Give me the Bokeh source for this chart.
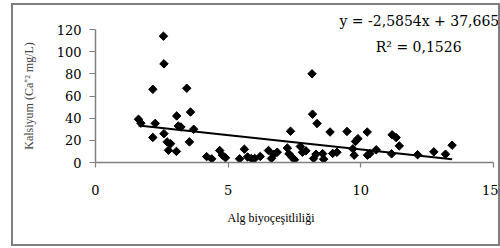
import numpy as np
from bokeh.plotting import figure
from bokeh.models import FixedTicker, Label, Range1d, Title
from bokeh.embed import file_html
from bokeh.resources import INLINE

# Data (algal biodiversity vs calcium)
alg = [1.62, 1.71, 2.16, 2.25, 2.56, 2.58, 3.44, 3.58, 3.06, 3.12, 3.22, 3.70,
       2.16, 2.58, 2.70, 2.83, 2.75, 3.05, 3.54, 4.19, 4.38, 4.68, 4.78, 4.90,
       5.43, 5.61, 5.73, 5.87, 6.00, 6.21, 6.52, 6.63, 6.72, 6.85, 7.23, 7.29,
       7.35, 7.42, 7.50, 7.72, 7.80, 7.93, 8.16, 8.18, 8.35, 8.22, 8.31, 8.56,
       8.60, 8.84, 8.94, 9.10, 9.48, 9.70, 9.75, 9.80, 9.89, 10.24, 10.25, 10.34,
       10.58, 11.18, 11.33, 11.45, 11.16, 12.14, 12.75, 13.19, 13.44]
ca = [39.0, 35.5, 66.0, 35.3, 114.0, 89.0, 67.0, 45.5, 42.0, 33.0, 32.0, 30.0,
      22.6, 26.0, 18.6, 17.0, 11.0, 10.0, 18.6, 5.3, 3.3, 10.8, 6.6, 4.3,
      3.3, 12.0, 5.0, 3.6, 3.6, 5.5, 10.8, 3.6, 7.2, 9.3, 13.0, 7.8,
      28.2, 4.5, 2.5, 14.5, 9.2, 10.5, 80.0, 43.6, 35.2, 3.6, 7.5, 8.0,
      3.0, 27.5, 8.2, 9.2, 28.0, 12.3, 6.6, 19.0, 21.5, 27.5, 6.6, 8.1,
      11.5, 25.0, 22.5, 15.0, 7.8, 7.0, 9.6, 7.5, 15.6]

x_ticks = [0, 5, 10, 15]
y_ticks = [0, 20, 40, 60, 80, 100, 120]
slope = -2.5854
intercept = 37.665
eq_text = "y = -2,5854x + 37,665"
r2_text = "R² = 0,1526"
x_title = "Alg biyoçeşitliliği"
y_title = "Kalsiyum (Ca⁺² mg/L)"

SERIF = "DejaVu Serif"
TITLE_FONT = "Liberation Serif"
GREY = "#808080"

p = figure(width=489, height=243,
           x_range=Range1d(0, 15), y_range=Range1d(0, 120),
           output_backend="svg", toolbar_location=None,
           min_border_left=82, min_border_right=9,
           min_border_top=24, min_border_bottom=86)
p.styles = {"border": "2px solid #7f7f7f", "margin-left": "11px",
            "margin-top": "3px", "box-sizing": "border-box"}
p.outline_line_color = None
p.xgrid.visible = False
p.ygrid.visible = False
p.background_fill_color = "white"
p.border_fill_color = "white"

# trend line from the regression coefficients over the data's x extent
tx = np.array([min(alg), max(alg)])
ty = slope * tx + intercept
p.line(tx, ty, line_color="black", line_width=2)

p.scatter(alg, ca, marker="square", angle=np.pi / 4, size=6,
          fill_color="black", line_color="black")

for ax in (p.xaxis[0], p.yaxis[0]):
    ax.axis_line_color = GREY
    ax.axis_line_width = 1.5
    ax.major_tick_line_color = GREY
    ax.major_tick_line_width = 1.2
    ax.minor_tick_line_color = None
    ax.major_tick_in = 0
    ax.major_label_text_font = SERIF
    ax.major_label_text_color = "black"

p.xaxis.ticker = FixedTicker(ticks=x_ticks)
p.yaxis.ticker = FixedTicker(ticks=y_ticks)
p.xaxis.major_tick_out = 5
p.xaxis.major_label_standoff = 17
p.xaxis.major_label_text_font_size = "13px"
p.yaxis.major_tick_out = 6
p.yaxis.major_label_standoff = 8
p.yaxis.major_label_text_font_size = "13px"

p.yaxis.axis_label = y_title
p.yaxis.axis_label_text_font = TITLE_FONT
p.yaxis.axis_label_text_font_size = "12px"
p.yaxis.axis_label_text_font_style = "normal"
p.yaxis.axis_label_standoff = 18

p.add_layout(Title(text=x_title, align="left", offset=132,
                   text_font=TITLE_FONT, text_font_size="12px",
                   text_font_style="normal", text_color="black",
                   standoff=22), "below")
p.add_layout(Title(text=eq_text, align="left", offset=244,
                   text_font=SERIF, text_font_size="14px",
                   text_font_style="normal", text_color="black",
                   standoff=2), "above")
p.add_layout(Label(x=12.18, y=104, text=r2_text, text_align="center",
                   text_baseline="middle", text_font=SERIF,
                   text_font_size="14px", text_color="black"))

open("out.html", "w").write(file_html(p, INLINE))
